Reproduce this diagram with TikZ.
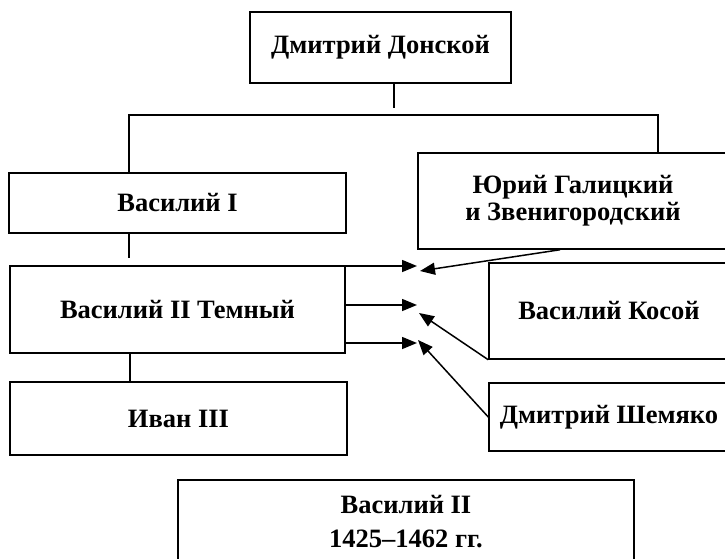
\documentclass[tikz,border=0pt]{standalone}
\usepackage{fontspec}
\setmainfont{Liberation Serif}
\usetikzlibrary{arrows.meta}
\begin{document}
\begin{tikzpicture}[x=1pt,y=-1pt,
  box/.style={draw,line width=1.5pt,rectangle,inner sep=0pt,align=center,
    font=\fontsize{26.5}{27}\selectfont\bfseries},
  conn/.style={line width=1.5pt},
  arr/.style={line width=1.5pt,-{Triangle[length=15pt,width=12pt]}}]
\useasboundingbox (0,0) rectangle (725,559);
\node[box,minimum width=261pt,minimum height=71pt] (dd) at (380.5,47.5) {Дмитрий Донской};
\node[box,minimum width=337pt,minimum height=60pt] (v1) at (177.5,203) {Василий I};
\node[box,minimum width=310pt,minimum height=96pt] (yu) at (573,201) {Юрий Галицкий\\и Звенигородский};
\node[box,minimum width=335pt,minimum height=87pt] (v2) at (177.5,309.5) {Василий II Темный};
\node[box,minimum width=337pt,minimum height=73pt] (iv) at (178.5,418.5) {Иван III};
\node[box,minimum width=240pt,minimum height=96pt] (vk) at (609,311) {Василий Косой};
\node[box,minimum width=240pt,minimum height=68pt] (ds) at (609,417) {Дмитрий Шемяко};
\node[box,font=\fontsize{26.5}{34}\selectfont\bfseries,minimum width=456pt,minimum height=84pt] (bt) at (406,522) {Василий II\\1425–1462 гг.};
% tree
\coordinate (d1) at (394,108);
\coordinate (hl) at (129,115);
\coordinate (hr) at (658,115);
\draw[conn] (dd.south -| d1) -- (d1);
\draw[conn] (v1.north -| hl) -- (hl) -- (hr) -- (yu.north -| hr);
\coordinate (g1) at (129,258);
\draw[conn] (v1.south -| g1) -- (g1);
\coordinate (g2) at (130,0);
\draw[conn] (v2.south -| g2) -- (iv.north -| g2);
% arrows
\coordinate (t1) at (417,266);
\coordinate (t2) at (417,305);
\coordinate (t3) at (417,343);
\draw[arr] (v2.east |- t1) -- (t1);
\draw[arr] (v2.east |- t2) -- (t2);
\draw[arr] (v2.east |- t3) -- (t3);
\coordinate (y0) at (560,0);
\draw[arr] (yu.south -| y0) -- (420,271);
\draw[arr] (vk.south west) -- (419,313);
\draw[arr] (ds.west) -- (418,340);
\end{tikzpicture}
\end{document}
